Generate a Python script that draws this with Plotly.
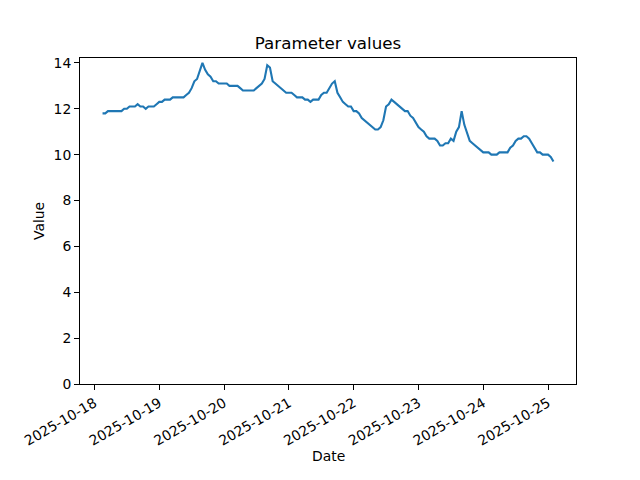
import plotly.graph_objects as go
import pandas as pd

start_time = "2025-10-18 03:00"
values = [
    11.8, 11.8, 11.9, 11.9, 11.9, 11.9, 11.9, 11.9, 12.0, 12.0,
    12.1, 12.1, 12.1, 12.2, 12.1, 12.1, 12.0, 12.1, 12.1, 12.1,
    12.2, 12.3, 12.3, 12.4, 12.4, 12.4, 12.5, 12.5, 12.5, 12.5,
    12.5, 12.6, 12.7, 12.9, 13.2, 13.3, 13.7, 14.0, 13.7, 13.5,
    13.4, 13.2, 13.2, 13.1, 13.1, 13.1, 13.1, 13.0, 13.0, 13.0,
    13.0, 12.9, 12.8, 12.8, 12.8, 12.8, 12.8, 12.9, 13.0, 13.1,
    13.3, 13.9, 13.8, 13.2, 13.1, 13.0, 12.9, 12.8, 12.7, 12.7,
    12.7, 12.6, 12.5, 12.5, 12.5, 12.4, 12.4, 12.3, 12.4, 12.4,
    12.4, 12.6, 12.7, 12.7, 12.9, 13.1, 13.2, 12.7, 12.5, 12.3,
    12.2, 12.1, 12.1, 11.9, 11.9, 11.8, 11.6, 11.5, 11.4, 11.3,
    11.2, 11.1, 11.1, 11.2, 11.5, 12.1, 12.2, 12.4, 12.3, 12.2,
    12.1, 12.0, 11.9, 11.9, 11.7, 11.6, 11.4, 11.2, 11.1, 11.0,
    10.8, 10.7, 10.7, 10.7, 10.6, 10.4, 10.4, 10.5, 10.5, 10.7,
    10.6, 11.0, 11.2, 11.9, 11.3, 10.9, 10.6, 10.5, 10.4, 10.3,
    10.2, 10.1, 10.1, 10.1, 10.0, 10.0, 10.0, 10.1, 10.1, 10.1,
    10.1, 10.3, 10.4, 10.6, 10.7, 10.7, 10.8, 10.8, 10.7, 10.5,
    10.3, 10.1, 10.1, 10.0, 10.0, 10.0, 9.9, 9.7,
]
dates = pd.date_range(start_time, periods=len(values), freq="h")

tick_dates = pd.date_range("2025-10-18", "2025-10-25", freq="D")
tick_labels = [d.strftime("%Y-%m-%d") for d in tick_dates]
y_ticks = [0, 2, 4, 6, 8, 10, 12, 14]

span = dates[-1] - dates[0]
x_range = [dates[0] - 0.05 * span, dates[-1] + 0.05 * span]
y_top = max(values) + 0.05 * (max(values) - min(values))

fig = go.Figure()
fig.add_trace(go.Scatter(x=dates, y=values, mode="lines",
                         line=dict(color="#1f77b4", width=2.1)))

font = dict(family="DejaVu Sans", size=13.9, color="black")
fig.update_layout(
    width=640, height=480,
    margin=dict(l=80, r=64, t=57.6, b=96, autoexpand=False),
    paper_bgcolor="white", plot_bgcolor="white",
    showlegend=False,
    font=font,
    title=dict(text="Parameter values", x=328 / 640, xanchor="center",
               y=1 - 43 / 480, yanchor="middle",
               font=dict(family="DejaVu Sans", size=16.7, color="black")),
    xaxis=dict(range=x_range, tickvals=tick_dates, ticktext=tick_labels,
               tickangle=-30, ticks="outside", ticklen=4.9, tickwidth=1.1,
               tickcolor="black", automargin=False,
               showline=True, mirror=True, linecolor="black", linewidth=1.1,
               showgrid=False, zeroline=False),
    yaxis=dict(range=[0, y_top], tickvals=y_ticks, automargin=False,
               ticks="outside", ticklen=4.9, tickwidth=1.1, tickcolor="black",
               showline=True, mirror=True, linecolor="black", linewidth=1.1,
               showgrid=False, zeroline=False),
    annotations=[
        dict(text="Date", xref="paper", yref="paper", x=0.5, y=-72 / 326.4,
             xanchor="center", yanchor="middle", showarrow=False, font=font),
        dict(text="Value", xref="paper", yref="paper", x=-41 / 496, y=0.5,
             xanchor="center", yanchor="middle", showarrow=False,
             textangle=-90, font=font),
    ],
)
fig.write_html("out.html",
               config={"displayModeBar": False},
               post_script="document.body.style.margin='0';"
                           "document.body.style.padding='0';")
